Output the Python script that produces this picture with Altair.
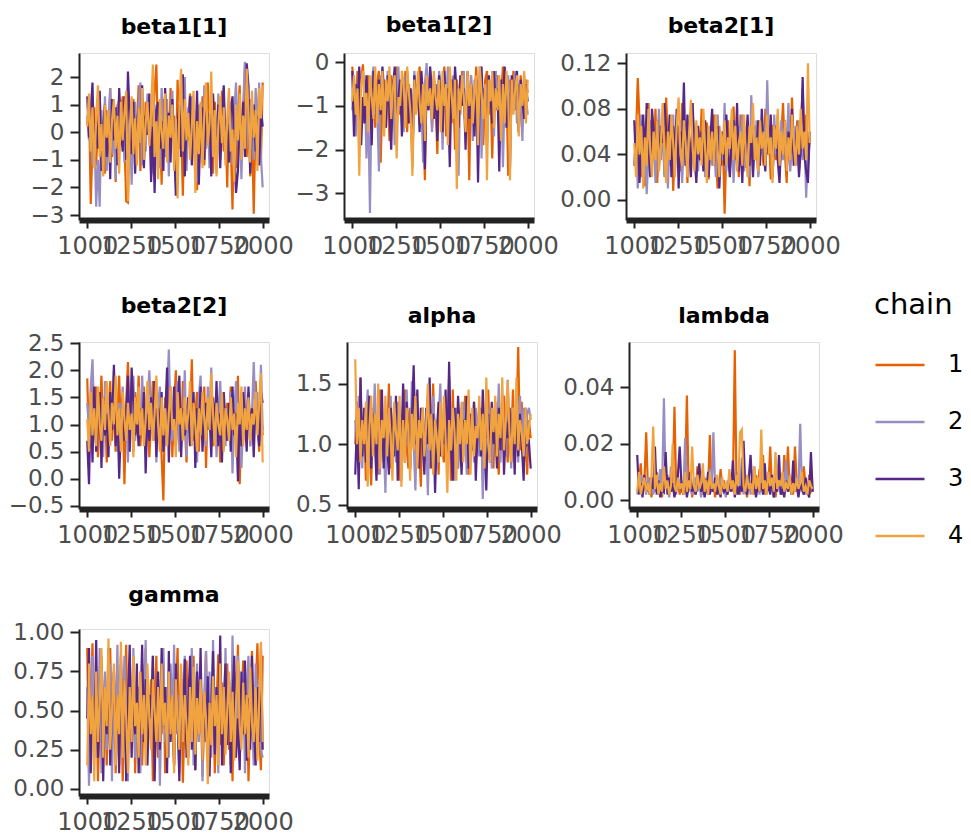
import altair as alt
import pandas as pd

# ---------------- data ----------------
N_DRAWS = 100
ITERATIONS = [1000 + round(i * 1000 / (N_DRAWS - 1)) for i in range(N_DRAWS)]
CHAINS = ["1", "2", "3", "4"]
CHAIN_COLORS = ["#e66101", "#998ec3", "#542788", "#f1a340"]
PARAMS = ["beta1[1]", "beta1[2]", "beta2[1]", "beta2[2]", "alpha", "lambda", "gamma"]

beta1_1 = [
    [0.3, 1.1, -2.6, -0.4, 0.9, -1.2, 0.5, 1.4, -0.7, 0.2,
     -1.5, 0.8, -0.2, 1.6, -0.9, 0.4, -1.8, 1.0, -0.5, 0.7,
     1.3, -0.3, -2.5, -2.55, 0.6, -1.1, 1.2, -0.6, 0.1, 1.7,
     -1.4, 0.5, -0.8, 1.1, -0.1, 0.9, -1.6, 0.3, 1.5, 2.45,
     -0.7, 0.4, -1.9, 1.2, -0.4, 0.8, -1.0, 1.6, -0.2, 0.6,
     -1.3, 1.9, -0.6, 0.2, -2.3, 1.0, -0.9, 0.5, 1.4, -0.3,
     0.7, -1.7, -2.1, 0.9, -0.5, 1.3, -1.2, 0.1, 1.8, -0.8,
     0.4, -1.5, 1.1, -0.2, 0.6, -1.0, 1.5, -0.7, 0.3, -2.0,
     1.2, -0.4, -2.8, 0.8, -1.3, 0.5, 1.7, -0.6, 0.2, 2.5,
     -0.9, 1.0, -1.6, 0.4, -2.95, 0.7, -0.3, 1.3, -1.1, 1.8],
    [0.6, -0.3, 1.0, -1.2, 0.2, -2.7, -1.0, -2.7, 0.8, -0.5,
     1.3, -1.4, 0.4, 1.6, -0.8, 0.1, -1.7, 0.9, 1.2, -0.4,
     0.5, -1.1, 1.5, -0.2, 0.7, -1.9, 0.3, 1.1, -0.6, 0.9,
     1.8, -1.2, 0.2, -0.7, 1.4, -0.1, 0.6, -1.5, 1.0, -0.3,
     0.8, -1.3, 1.6, 0.0, -0.9, 1.2, -1.6, 0.5, 1.5, -0.5,
     0.3, -1.0, 1.1, -0.4, 0.7, 2.0, -1.4, 0.9, -0.2, 1.3,
     -0.8, 0.4, -1.8, 1.0, 0.1, -1.1, 1.7, -0.6, 0.6, -1.3,
     1.2, -0.3, 0.8, -1.5, 1.4, -0.7, 0.2, 1.6, -1.0, 0.5,
     -0.4, 1.1, -1.2, 0.7, 1.8, -0.5, 0.3, -1.7, 1.0, 2.55,
     1.7, -0.6, 1.2, 0.4, -1.0, 1.6, 0.2, 1.8, -0.9, -2.0],
    [1.3, -0.2, 0.8, 1.8, -1.1, 0.4, -0.6, 1.5, -1.4, 0.2,
     1.0, -0.9, 0.6, -1.7, 1.2, -0.3, 0.9, -1.2, 1.6, 0.1,
     -0.7, 1.3, -1.0, 2.2, 0.5, -0.8, 1.1, -1.5, 0.3, 0.9,
     -0.4, 1.7, -1.3, 0.6, -0.1, 1.4, -1.8, 0.2, -2.2, 0.8,
     1.1, -0.6, 0.4, -1.4, 1.6, -0.2, 0.7, -1.1, 1.2, -0.5,
     -2.3, 0.3, 1.0, -0.9, 2.1, -1.6, 0.5, -0.3, 1.3, -1.2,
     0.6, -0.7, 1.5, -1.9, 0.2, 0.9, -1.0, 1.2, -0.4, 0.7,
     -1.6, 1.4, 0.1, -0.8, 1.0, -1.3, 0.5, 1.7, -0.6, 0.3,
     -1.1, 0.8, 1.3, -0.5, -2.2, -1.4, 0.6, -0.2, 1.1, -0.9,
     2.5, 1.7, -1.5, 0.4, 1.0, -0.7, 0.6, -1.2, 0.9, 0.2],
    [0.2, 1.4, -0.7, 0.9, -1.3, 0.5, 1.7, -0.9, 0.3, -1.6,
     1.0, -0.2, 0.8, -1.1, 0.4, 1.2, -0.6, 0.6, -1.5, 1.1,
     -0.3, 0.7, 1.5, -2.5, 0.1, 1.3, -0.8, 0.5, -1.2, 0.9,
     -0.4, 1.6, -1.0, 0.3, 1.1, -0.5, 0.8, 2.45, -0.9, 0.4,
     -1.7, 1.2, 0.0, -0.6, 1.4, -1.1, 0.6, -0.2, 1.0, -1.4,
     0.5, -2.4, 0.9, 2.3, -0.7, 1.2, -0.3, 0.7, -1.0, 0.2,
     1.5, -2.2, 0.4, -0.8, 1.1, -1.3, 0.6, 1.8, -0.5, 0.3,
     2.2, -0.9, 0.8, -1.6, 0.2, 1.3, -0.4, 0.9, -1.2, 0.5,
     1.6, -0.7, 0.1, -1.8, 1.0, -0.3, 1.4, -1.0, 0.6, -0.6,
     2.3, 0.7, -1.1, 1.5, -0.2, 0.8, -1.4, 1.6, 0.5, 1.7],
]

beta1_2 = [
    [-0.1, -0.6, -1.2, -0.2, -1.6, -0.4, -0.05, -0.9, -1.3, -0.3,
     -0.7, -1.0, -0.15, -1.5, -0.5, -0.2, -2.3, -0.8, -0.4, -1.1,
     -0.6, -1.8, -0.3, -0.9, -1.4, -0.1, -0.7, -1.2, -0.4, -1.0,
     -0.2, -1.6, -0.5, -0.9, -2.4, -0.3, -1.1, -0.6, -0.1, -1.3,
     -0.8, -2.7, -0.4, -1.0, -0.2, -1.5, -0.6, -0.9, -2.1, -0.3,
     -1.2, -0.5, -0.1, -1.7, -0.8, -0.3, -1.4, -0.6, -2.0, -0.4,
     -0.9, -1.2, -0.2, -0.7, -1.6, -0.5, -2.7, -0.3, -1.1, -0.8,
     -0.1, -1.4, -0.6, -0.9, -1.9, -0.4, -0.2, -1.2, -0.7, -2.2,
     -0.5, -1.0, -0.3, -1.5, -0.8, -0.1, -1.3, -0.6, -2.6, -0.4,
     -0.9, -0.2, -1.1, -0.5, -1.6, -0.3, -0.8, -1.2, -0.4, -0.7],
    [-1.1, -0.3, -1.7, -0.6, -0.2, -0.9, -1.4, -0.4, -2.2, -1.0,
     -3.45, -0.5, -0.1, -1.2, -0.8, -2.5, -0.3, -1.0, -0.6, -1.5,
     -0.2, -0.9, -1.3, -0.4, -1.9, -0.7, -0.1, -1.1, -0.5, -1.6,
     -0.3, -0.8, -1.2, -0.6, -1.8, -0.2, -1.0, -0.4, -1.4, -0.9,
     -2.3, -0.5, -0.02, -1.1, -0.7, -1.6, -0.3, -0.9, -1.3, -0.2,
     -0.6, -2.0, -0.4, -1.0, -0.1, -1.4, -0.8, -0.3, -1.2, -0.6,
     -2.6, -0.5, -0.9, -0.2, -1.5, -0.7, -1.1, -0.3, -1.8, -0.4,
     -0.8, -1.2, -0.1, -2.2, -0.6, -0.9, -1.4, -0.3, -1.0, -0.5,
     -1.7, -0.2, -0.8, -1.3, -0.4, -2.4, -0.6, -1.0, -0.3, -1.5,
     -0.7, -1.1, -0.2, -1.4, -0.5, -0.9, -1.8, -0.3, -0.8, -1.2],
    [-0.2, -1.7, -0.5, -1.0, -0.1, -1.9, -0.8, -1.4, -0.3, -1.2,
     -0.6, -1.9, -0.2, -0.9, -1.3, -0.4, -1.2, -0.1, -0.7, -1.5,
     -0.3, -1.1, -2.0, -0.6, -0.1, -1.3, -0.8, -0.4, -1.7, -0.5,
     -0.9, -0.2, -1.4, -0.6, -2.2, -0.3, -1.0, -0.5, -1.6, -0.2,
     -0.8, -2.45, -0.4, -1.1, -0.1, -0.7, -1.3, -0.5, -1.8, -0.3,
     -0.9, -1.6, -0.2, -1.0, -0.6, -2.4, -0.4, -1.2, -0.1, -0.8,
     -1.5, -0.3, -1.0, -0.6, -2.0, -0.2, -1.3, -0.5, -0.9, -1.7,
     -0.4, -2.75, -0.7, -0.1, -1.2, -0.5, -1.9, -0.3, -0.8, -1.4,
     -0.2, -1.1, -0.6, -2.5, -0.4, -1.0, -0.1, -1.5, -0.7, -2.45,
     -0.3, -1.1, -0.6, -0.2, -1.6, -0.4, -0.9, -1.3, -0.5, -0.9],
    [-0.9, -0.3, -1.2, -0.6, -2.6, -0.5, -0.2, -1.0, -0.7, -1.6,
     -0.3, -0.8, -1.3, -0.1, -1.4, -0.5, -1.1, -0.2, -1.7, -0.4,
     -0.9, -0.1, -1.3, -0.6, -0.3, -2.2, -0.8, -1.0, -0.2, -0.5,
     -1.5, -0.1, -0.7, -1.2, -2.6, -0.4, -1.2, -0.2, -0.9, -1.4,
     -0.5, -1.8, -0.3, -1.0, -0.6, -1.3, -0.2, -0.8, -1.1, -0.4,
     -1.6, -0.2, -1.0, -0.5, -1.9, -0.1, -0.7, -1.3, -0.4, -2.9,
     -0.6, -1.1, -0.3, -0.8, -1.6, -0.2, -1.0, -0.5, -1.4, -0.7,
     -0.3, -1.9, -0.1, -0.7, -1.3, -0.5, -2.7, -0.4, -0.9, -0.2,
     -1.5, -0.6, -1.1, -0.3, -1.8, -0.5, -1.4, -0.2, -0.8, -2.7,
     -0.4, -1.2, -0.6, -0.3, -1.7, -0.5, -1.0, -0.2, -1.4, -0.4],
]

beta2_1 = [
    [0.030, 0.055, 0.107, 0.070, 0.020, 0.065, 0.012, 0.048, 0.085, 0.025,
     0.060, 0.035, 0.080, 0.015, 0.055, 0.040, 0.075, 0.022, 0.090, 0.045,
     0.030, 0.070, 0.008, 0.050, 0.035, 0.065, 0.025, 0.085, 0.040, 0.060,
     0.015, 0.055, 0.030, 0.072, 0.045, 0.020, 0.062, 0.038, 0.080, 0.028,
     0.050, 0.068, 0.018, 0.058, 0.035, 0.075, 0.042, 0.010, 0.065, 0.030,
     0.055, -0.012, 0.045, 0.070, 0.025, 0.060, 0.082, 0.035, 0.050, 0.020,
     0.075, 0.040, 0.060, 0.028, 0.070, 0.012, 0.055, 0.035, 0.065, 0.045,
     0.022, 0.070, 0.050, 0.030, 0.080, 0.040, 0.058, 0.018, 0.066, 0.045,
     0.035, 0.075, 0.025, 0.055, 0.085, 0.040, 0.015, 0.068, 0.030, 0.090,
     0.050, 0.038, 0.070, 0.025, 0.060, 0.098, 0.042, 0.075, 0.030, 0.055],
    [0.030, 0.060, 0.010, 0.045, 0.075, 0.020, 0.055, 0.005, 0.040, 0.070,
     0.030, 0.060, 0.015, 0.050, 0.080, 0.035, 0.065, 0.020, 0.045, 0.010,
     0.060, 0.040, 0.075, 0.025, 0.055, 0.035, 0.070, 0.015, 0.050, 0.030,
     0.065, 0.045, 0.020, 0.080, 0.040, 0.060, 0.025, 0.050, 0.035, 0.070,
     0.020, 0.055, 0.040, 0.065, 0.030, 0.050, 0.020, 0.075, 0.045, 0.060,
     0.035, 0.085, 0.025, 0.055, 0.040, 0.070, 0.015, 0.050, 0.030, 0.065,
     0.045, 0.075, 0.025, 0.060, 0.040, 0.020, 0.092, 0.050, 0.035, 0.070,
     0.020, 0.055, 0.040, 0.065, 0.030, 0.105, 0.045, 0.060, 0.025, 0.075,
     0.040, 0.055, 0.020, 0.070, 0.035, 0.060, 0.045, 0.085, 0.025, 0.050,
     0.040, 0.065, 0.030, 0.070, 0.050, 0.035, 0.060, 0.002, 0.045, 0.050],
    [0.070, 0.030, 0.055, 0.015, 0.045, 0.075, 0.035, 0.085, 0.050, 0.020,
     0.080, 0.060, 0.040, 0.070, 0.030, 0.065, 0.050, 0.085, 0.060, 0.040,
     0.075, 0.020, 0.065, 0.040, 0.080, 0.010, 0.060, 0.045, 0.103, 0.030,
     0.075, 0.050, 0.020, 0.085, 0.040, 0.015, 0.065, 0.035, 0.060, 0.025,
     0.070, 0.045, 0.020, 0.055, 0.080, 0.030, 0.050, 0.065, 0.010, 0.045,
     0.060, 0.030, 0.075, 0.040, 0.020, 0.055, 0.070, 0.035, 0.085, 0.025,
     0.050, 0.015, 0.065, 0.040, 0.075, 0.030, 0.060, 0.020, 0.055, 0.045,
     0.070, 0.030, 0.080, 0.045, 0.025, 0.060, 0.040, 0.075, 0.020, 0.050,
     0.065, 0.035, 0.015, 0.055, 0.045, 0.070, 0.025, 0.060, 0.040, 0.080,
     0.030, 0.050, 0.065, 0.020, 0.045, 0.108, 0.040, 0.025, 0.015, 0.060],
    [0.050, 0.020, 0.075, 0.040, 0.065, 0.010, 0.055, 0.030, 0.080, 0.045,
     0.020, 0.060, 0.035, 0.070, 0.025, 0.050, 0.085, 0.040, 0.015, 0.060,
     0.035, 0.075, 0.050, 0.020, 0.065, 0.090, 0.040, 0.030, 0.070, 0.050,
     0.020, 0.060, 0.088, 0.045, 0.025, 0.070, 0.040, 0.055, 0.030, 0.080,
     0.045, 0.015, 0.065, 0.035, 0.060, 0.030, 0.075, 0.045, 0.020, 0.060,
     0.040, 0.070, 0.030, 0.055, 0.045, 0.080, 0.035, 0.065, 0.025, 0.050,
     0.060, 0.030, 0.075, 0.040, 0.020, 0.065, 0.050, 0.085, 0.035, 0.055,
     0.025, 0.070, 0.045, 0.060, 0.030, 0.075, 0.040, 0.055, 0.015, 0.065,
     0.045, 0.080, 0.030, 0.060, 0.040, 0.070, 0.025, 0.055, 0.035, 0.075,
     0.050, 0.030, 0.065, 0.040, 0.080, 0.045, 0.060, 0.035, 0.120, 0.050],
]

beta2_2 = [
    [1.85, 0.6, 1.3, 1.75, 0.9, 1.7, 0.4, 1.2, 1.9, 0.8,
     1.5, 0.3, 1.1, 1.8, 0.7, 1.4, 0.5, 1.2, 1.9, 0.8,
     1.3, -0.1, 1.4, 2.15, 0.9, 1.3, 0.5, 1.6, 1.0, 1.9,
     0.6, 1.2, 1.7, 0.8, 1.5, 0.4, 1.1, 1.8, 0.7, 1.3,
     1.0, 1.6, 0.4, -0.4, 1.5, 0.8, 1.1, 1.7, 0.4, 1.3,
     2.0, 0.9, 1.4, 0.6, 1.8, 1.0, 0.3, 1.5, 1.1, 2.2,
     0.7, 1.2, 1.6, 0.5, 1.3, 0.9, 1.7, 0.2, 1.4, 1.0,
     1.8, 0.6, 1.2, 0.9, 1.5, 0.3, 1.6, 1.1, 0.7, 1.4,
     1.0, 1.7, 0.5, 1.3, 0.8, 1.9, -0.1, 1.2, 0.7, 1.5,
     1.0, 1.6, 0.6, 1.3, 0.9, 1.8, 1.1, 0.5, 1.3, 0.8],
    [1.4, 0.9, 1.7, 2.2, 1.1, 0.6, 1.6, 1.0, 1.3, 0.4,
     1.8, 1.2, 0.7, 1.5, 0.9, 2.0, 1.1, 0.5, 1.4, 1.0,
     1.7, 0.8, 1.3, 0.3, 1.6, 1.1, 1.9, 0.7, 1.2, 1.5,
     0.9, 1.9, 1.0, 0.6, 1.4, 2.0, 1.1, 0.8, 1.5, 0.3,
     1.3, 1.7, 0.9, 1.2, 0.6, 1.5, 2.38, 1.0, 0.7, 1.4,
     1.1, 1.8, 0.5, 1.3, 0.9, 2.0, 0.4, 1.4, 1.0, 1.6,
     0.8, 1.2, 0.3, 1.5, 1.9, 0.9, 1.3, 0.6, 1.7, 1.1,
     2.05, 0.7, 1.4, 0.4, 1.2, 1.8, 0.9, 1.5, 0.6, 1.3,
     1.0, 1.6, 0.1, 1.2, 1.8, 0.8, 1.4, 0.2, 1.1, 1.7,
     0.9, 1.4, 0.6, 1.2, 2.15, 1.0, 1.6, 0.7, 2.1, 0.9],
    [0.7, -0.1, 1.4, 0.3, 1.7, 0.5, 1.1, 1.6, 0.2, 1.5,
     0.8, 1.2, 0.4, 1.6, 0.9, 2.1, 0.6, 1.3, 0.0, 1.0,
     1.5, 0.7, 1.2, 1.9, 0.5, 2.05, 1.4, 0.8, 1.1, 0.6,
     1.3, 0.9, 1.6, 0.1, 1.2, 0.7, 1.5, 1.0, 1.8, 0.4,
     1.3, 0.8, 1.6, 0.5, 1.1, 2.05, 0.3, 1.4, 0.9, 1.7,
     0.6, 1.2, 1.9, 0.4, 1.3, 0.8, 1.1, 1.5, 0.6, 1.0,
     1.6, 0.2, 1.3, 0.8, 1.7, 0.5, 1.1, 1.4, 0.9, 1.2,
     0.4, 1.5, 0.9, 1.8, 0.6, 1.2, 0.3, 1.6, 1.0, 0.7,
     1.4, 0.5, 1.7, 0.8, 1.2, -0.05, 1.3, 0.6, 1.6, 1.1,
     0.5, 1.7, 0.8, 1.3, 0.4, 1.5, 1.0, 0.6, 1.6, 1.4],
    [1.1, 0.5, 1.6, 0.8, 1.3, 0.6, 1.7, 1.0, 0.7, 1.5,
     0.9, 1.8, 1.2, 0.6, 1.4, 1.0, 1.9, 0.8, 1.3, 0.5,
     1.6, 1.1, 0.7, 1.4, 0.9, 1.2, 0.4, 1.5, 1.0, 1.7,
     0.8, 1.3, 0.6, 1.1, 1.8, 0.9, 1.4, 0.7, 1.2, 1.9,
     1.0, 0.5, 1.5, 0.8, 1.3, 0.6, 1.2, 1.7, 0.9, 1.1,
     0.4, 1.6, 1.0, 1.3, 0.7, 1.5, 0.9, 1.2, 1.8, 0.6,
     1.4, 1.0, 0.5, 1.3, 0.8, 1.6, 1.1, 0.7, 1.5, 0.9,
     1.95, 1.2, 0.6, 1.4, 1.0, 0.8, 1.6, 0.5, 1.3, 1.1,
     0.7, 1.5, 0.9, 1.2, 0.4, 1.4, 1.0, 1.7, 0.6, 1.3,
     0.9, 1.5, 0.7, 1.2, 1.0, 1.6, 0.8, 1.4, 1.95, 0.3],
]

alpha = [
    [1.00, 1.35, 0.80, 1.55, 0.90, 1.20, 0.70, 1.40, 1.00, 0.66,
     1.30, 0.95, 1.15, 0.75, 1.45, 1.05, 0.85, 1.30, 1.00, 1.50,
     0.80, 1.20, 0.90, 1.35, 1.10, 0.70, 1.25, 0.95, 1.45, 1.00,
     0.80, 1.30, 1.10, 1.55, 0.85, 1.20, 1.00, 0.65, 1.30, 0.90,
     1.15, 1.40, 0.80, 1.05, 1.50, 0.95, 1.20, 0.75, 1.35, 1.00,
     0.85, 1.25, 1.10, 1.56, 0.70, 1.45, 0.95, 1.20, 0.80, 1.05,
     1.30, 0.90, 1.40, 1.05, 0.75, 1.25, 1.00, 1.35, 0.85, 1.15,
     0.95, 1.30, 0.70, 1.20, 1.05, 1.45, 0.90, 1.15, 0.80, 1.35,
     1.00, 0.75, 1.25, 0.95, 1.40, 1.10, 0.85, 1.30, 1.00, 1.45,
     0.80, 1.20, 1.80, 0.95, 1.35, 0.80, 1.10, 0.75, 1.20, 1.05],
    [1.20, 0.90, 1.40, 1.05, 0.80, 1.30, 1.10, 1.45, 0.85, 1.20,
     1.00, 1.50, 0.90, 1.15, 0.75, 1.30, 1.05, 0.60, 1.25, 0.90,
     1.40, 1.00, 1.20, 0.85, 1.35, 1.10, 0.70, 1.30, 0.95, 1.45,
     1.05, 0.80, 1.52, 1.00, 0.62, 1.35, 0.90, 1.15, 1.30, 0.85,
     1.10, 0.58, 1.25, 0.95, 1.40, 1.05, 0.80, 1.20, 1.50, 0.90,
     1.30, 1.05, 0.85, 1.45, 1.00, 1.25, 0.70, 1.30, 0.80, 1.20,
     0.95, 1.35, 1.10, 0.75, 1.40, 1.00, 1.20, 0.85, 1.30, 1.05,
     0.90, 1.25, 0.55, 1.15, 1.40, 0.95, 1.30, 0.80, 1.10, 1.35,
     1.00, 1.50, 0.85, 1.25, 1.05, 0.90, 1.53, 1.10, 0.80, 1.30,
     1.00, 1.20, 0.85, 1.40, 1.05, 1.30, 0.90, 1.25, 1.30, 1.20],
    [0.75, 1.20, 0.63, 1.55, 0.90, 1.30, 0.85, 1.15, 1.40, 0.80,
     1.25, 1.05, 0.70, 1.35, 0.95, 1.45, 0.80, 1.20, 1.00, 0.75,
     1.30, 1.10, 0.90, 1.40, 0.70, 1.20, 1.00, 1.50, 0.85, 1.35,
     1.10, 0.80, 1.20, 1.65, 1.00, 1.45, 0.80, 1.30, 1.05, 0.75,
     1.30, 1.00, 1.55, 0.80, 1.25, 0.60, 1.10, 1.35, 0.90, 1.20,
     1.00, 1.45, 0.85, 1.68, 1.00, 0.70, 1.30, 0.90, 1.40, 1.10,
     0.75, 1.20, 1.05, 1.40, 0.80, 1.25, 0.95, 1.35, 0.70, 1.10,
     1.30, 0.90, 1.45, 1.00, 0.62, 1.25, 0.85, 1.35, 1.00, 1.15,
     0.80, 1.30, 0.95, 1.40, 0.75, 1.20, 1.05, 1.30, 0.85, 1.25,
     0.75, 1.35, 0.90, 1.25, 1.00, 0.70, 1.30, 1.00, 1.02, 0.80],
    [1.70, 1.00, 1.30, 0.85, 1.20, 1.00, 1.35, 0.65, 1.15, 1.40,
     0.90, 1.25, 1.00, 1.50, 0.80, 1.20, 1.05, 1.40, 0.90, 1.30,
     1.05, 0.70, 1.35, 1.10, 0.95, 1.40, 0.65, 1.20, 0.85, 1.30,
     1.10, 0.70, 1.25, 0.95, 1.40, 0.80, 1.20, 1.05, 1.30, 0.90,
     1.15, 1.50, 0.95, 1.25, 0.75, 1.20, 1.05, 0.85, 1.35, 0.90,
     1.40, 1.05, 0.60, 1.20, 0.95, 1.30, 1.10, 0.70, 1.25, 1.00,
     1.35, 0.85, 1.20, 1.00, 1.45, 0.75, 1.30, 0.90, 1.15, 1.05,
     1.40, 0.95, 1.25, 0.80, 1.55, 1.00, 0.85, 1.30, 1.10, 1.40,
     0.90, 1.25, 1.05, 1.55, 0.95, 1.20, 1.52, 1.10, 0.85, 1.30,
     1.00, 1.55, 0.95, 1.20, 1.10, 0.90, 1.30, 1.00, 1.15, 1.25],
]

lambda_ = [
    [0.003, 0.006, 0.013, 0.002, 0.005, 0.024, 0.004, 0.008, 0.001, 0.006,
     0.003, 0.010, 0.002, 0.005, 0.001, 0.007, 0.004, 0.009, 0.002, 0.006,
     0.003, 0.033, 0.004, 0.007, 0.002, 0.005, 0.003, 0.008, 0.037, 0.003,
     0.009, 0.001, 0.005, 0.002, 0.012, 0.004, 0.006, 0.002, 0.008, 0.003,
     0.005, 0.023, 0.003, 0.006, 0.001, 0.008, 0.002, 0.011, 0.004, 0.007,
     0.002, 0.006, 0.004, 0.009, 0.003, 0.053, 0.004, 0.007, 0.002, 0.010,
     0.003, 0.005, 0.001, 0.008, 0.004, 0.006, 0.002, 0.009, 0.003, 0.011,
     0.005, 0.016, 0.002, 0.007, 0.004, 0.019, 0.003, 0.008, 0.001, 0.006,
     0.004, 0.009, 0.002, 0.016, 0.005, 0.019, 0.003, 0.008, 0.002, 0.019,
     0.006, 0.002, 0.007, 0.003, 0.012, 0.005, 0.002, 0.009, 0.003, 0.004],
    [0.002, 0.005, 0.009, 0.003, 0.006, 0.002, 0.008, 0.004, 0.007, 0.002,
     0.005, 0.003, 0.006, 0.011, 0.002, 0.036, 0.004, 0.007, 0.001, 0.012,
     0.003, 0.005, 0.002, 0.009, 0.004, 0.006, 0.003, 0.022, 0.002, 0.007,
     0.004, 0.002, 0.005, 0.008, 0.003, 0.006, 0.001, 0.009, 0.004, 0.007,
     0.002, 0.011, 0.003, 0.024, 0.004, 0.006, 0.002, 0.008, 0.003, 0.005,
     0.001, 0.007, 0.003, 0.009, 0.004, 0.006, 0.002, 0.010, 0.003, 0.015,
     0.002, 0.006, 0.004, 0.008, 0.002, 0.005, 0.012, 0.003, 0.007, 0.002,
     0.009, 0.004, 0.006, 0.002, 0.010, 0.003, 0.005, 0.001, 0.008, 0.004,
     0.006, 0.002, 0.009, 0.003, 0.014, 0.004, 0.007, 0.002, 0.005, 0.003,
     0.008, 0.004, 0.027, 0.003, 0.008, 0.002, 0.005, 0.003, 0.010, 0.003],
    [0.016, 0.002, 0.006, 0.001, 0.009, 0.003, 0.005, 0.002, 0.008, 0.004,
     0.019, 0.002, 0.007, 0.001, 0.004, 0.003, 0.017, 0.002, 0.008, 0.003,
     0.006, 0.001, 0.004, 0.009, 0.019, 0.004, 0.002, 0.007, 0.001, 0.005,
     0.010, 0.003, 0.005, 0.002, 0.008, 0.013, 0.003, 0.006, 0.001, 0.004,
     0.010, 0.002, 0.006, 0.003, 0.008, 0.002, 0.005, 0.001, 0.007, 0.003,
     0.004, 0.002, 0.008, 0.003, 0.014, 0.001, 0.006, 0.002, 0.005, 0.003,
     0.021, 0.004, 0.002, 0.008, 0.016, 0.003, 0.007, 0.001, 0.005, 0.003,
     0.006, 0.002, 0.013, 0.003, 0.005, 0.002, 0.009, 0.001, 0.006, 0.003,
     0.016, 0.002, 0.004, 0.001, 0.007, 0.003, 0.009, 0.002, 0.014, 0.003,
     0.005, 0.001, 0.006, 0.004, 0.002, 0.008, 0.003, 0.001, 0.017, 0.003],
    [0.003, 0.010, 0.002, 0.005, 0.008, 0.003, 0.006, 0.002, 0.009, 0.026,
     0.004, 0.009, 0.002, 0.006, 0.003, 0.012, 0.004, 0.007, 0.002, 0.005,
     0.020, 0.005, 0.003, 0.008, 0.004, 0.006, 0.002, 0.010, 0.003, 0.007,
     0.004, 0.019, 0.005, 0.003, 0.009, 0.004, 0.006, 0.013, 0.003, 0.007,
     0.002, 0.010, 0.004, 0.006, 0.003, 0.009, 0.005, 0.002, 0.008, 0.004,
     0.006, 0.003, 0.011, 0.004, 0.007, 0.002, 0.009, 0.005, 0.024, 0.025,
     0.005, 0.003, 0.009, 0.004, 0.006, 0.002, 0.012, 0.004, 0.008, 0.003,
     0.025, 0.004, 0.007, 0.002, 0.010, 0.005, 0.008, 0.003, 0.017, 0.004,
     0.007, 0.005, 0.010, 0.003, 0.006, 0.004, 0.009, 0.002, 0.006, 0.003,
     0.008, 0.004, 0.006, 0.010, 0.003, 0.005, 0.002, 0.007, 0.005, 0.004],
]

gamma = [
    [0.90, 0.12, 0.55, 0.93, 0.20, 0.70, 0.05, 0.45, 0.85, 0.30,
     0.65, 0.15, 0.50, 0.90, 0.25, 0.75, 0.10, 0.60, 0.35, 0.80,
     0.05, 0.50, 0.92, 0.20, 0.65, 0.40, 0.85, 0.10, 0.55, 0.30,
     0.75, 0.15, 0.60, 0.90, 0.25, 0.45, 0.70, 0.05, 0.50, 0.85,
     0.20, 0.65, 0.35, 0.80, 0.10, 0.55, 0.30, 0.75, 0.45, 0.15,
     0.60, 0.90, 0.25, 0.70, 0.04, 0.50, 0.82, 0.20, 0.65, 0.38,
     0.85, 0.12, 0.58, 0.30, 0.78, 0.08, 0.48, 0.88, 0.22, 0.62,
     0.35, 0.72, 0.10, 0.52, 0.86, 0.28, 0.68, 0.15, 0.45, 0.80,
     0.25, 0.60, 0.05, 0.75, 0.40, 0.92, 0.18, 0.55, 0.82, 0.30,
     0.70, 0.05, 0.48, 0.88, 0.20, 0.62, 0.93, 0.35, 0.12, 0.85],
    [0.65, 0.02, 0.50, 0.85, 0.20, 0.60, 0.35, 0.90, 0.10, 0.55,
     0.75, 0.25, 0.45, 0.80, 0.05, 0.70, 0.40, 0.92, 0.15, 0.60,
     0.30, 0.85, 0.50, 0.05, 0.75, 0.35, 0.90, 0.20, 0.55, 0.65,
     0.10, 0.80, 0.40, 0.95, 0.25, 0.60, 0.45, 0.85, 0.15, 0.50,
     0.70, 0.02, 0.55, 0.90, 0.30, 0.65, 0.20, 0.80, 0.45, 0.92,
     0.35, 0.60, 0.10, 0.75, 0.50, 0.85, 0.25, 0.65, 0.40, 0.90,
     0.15, 0.55, 0.80, 0.30, 0.70, 0.05, 0.60, 0.88, 0.35, 0.75,
     0.20, 0.95, 0.45, 0.65, 0.10, 0.80, 0.55, 0.30, 0.90, 0.40,
     0.70, 0.15, 0.98, 0.50, 0.25, 0.85, 0.60, 0.35, 0.75, 0.10,
     0.65, 0.85, 0.30, 0.55, 0.15, 0.80, 0.45, 0.70, 0.25, 0.20],
    [0.45, 0.90, 0.10, 0.60, 0.30, 0.95, 0.20, 0.55, 0.80, 0.05,
     0.65, 0.35, 0.90, 0.15, 0.50, 0.75, 0.25, 0.60, 0.10, 0.85,
     0.40, 0.70, 0.05, 0.55, 0.92, 0.20, 0.65, 0.35, 0.80, 0.10,
     0.50, 0.92, 0.30, 0.70, 0.15, 0.60, 0.45, 0.85, 0.05, 0.55,
     0.75, 0.25, 0.90, 0.40, 0.65, 0.10, 0.88, 0.30, 0.60, 0.15,
     0.80, 0.45, 0.05, 0.70, 0.35, 0.83, 0.20, 0.55, 0.85, 0.25,
     0.62, 0.12, 0.75, 0.40, 0.90, 0.18, 0.58, 0.30, 0.72, 0.08,
     0.50, 0.88, 0.22, 0.65, 0.35, 0.98, 0.15, 0.55, 0.80, 0.28,
     0.70, 0.10, 0.60, 0.85, 0.20, 0.45, 0.12, 0.75, 0.35, 0.82,
     0.18, 0.58, 0.25, 0.85, 0.40, 0.15, 0.65, 0.30, 0.90, 0.25],
    [0.15, 0.80, 0.35, 0.60, 0.05, 0.75, 0.30, 0.55, 0.90, 0.20,
     0.65, 0.40, 0.96, 0.25, 0.50, 0.80, 0.15, 0.60, 0.35, 0.94,
     0.20, 0.70, 0.45, 0.10, 0.65, 0.30, 0.85, 0.40, 0.55, 0.20,
     0.75, 0.35, 0.60, 0.15, 0.80, 0.45, 0.25, 0.70, 0.50, 0.30,
     0.65, 0.30, 0.80, 0.40, 0.55, 0.20, 0.75, 0.35, 0.60, 0.10,
     0.70, 0.45, 0.25, 0.80, 0.30, 0.60, 0.40, 0.15, 0.65, 0.30,
     0.78, 0.22, 0.58, 0.35, 0.70, 0.18, 0.62, 0.45, 0.03, 0.55,
     0.28, 0.72, 0.40, 0.60, 0.15, 0.80, 0.35, 0.65, 0.22, 0.50,
     0.75, 0.30, 0.62, 0.18, 0.55, 0.82, 0.40, 0.25, 0.68, 0.35,
     0.60, 0.20, 0.78, 0.42, 0.30, 0.65, 0.18, 0.55, 0.94, 0.30],
]

TRACES = {
    "beta1[1]": beta1_1, "beta1[2]": beta1_2, "beta2[1]": beta2_1,
    "beta2[2]": beta2_2, "alpha": alpha, "lambda": lambda_, "gamma": gamma,
}

# y-axis domain, tick values and format per panel
Y_DOMAINS = {
    "beta1[1]": [-3.18, 2.87], "beta1[2]": [-3.61, 0.21], "beta2[1]": [-0.0176, 0.129],
    "beta2[2]": [-0.556, 2.52], "alpha": [0.467, 1.842], "lambda": [-0.0031, 0.0559],
    "gamma": [-0.045, 1.021],
}
Y_TICKS = {
    "beta1[1]": [-3, -2, -1, 0, 1, 2], "beta1[2]": [-3, -2, -1, 0],
    "beta2[1]": [0, 0.04, 0.08, 0.12], "beta2[2]": [-0.5, 0, 0.5, 1, 1.5, 2, 2.5],
    "alpha": [0.5, 1.0, 1.5], "lambda": [0, 0.02, 0.04], "gamma": [0, 0.25, 0.5, 0.75, 1],
}
Y_FORMATS = {
    "beta1[1]": ".0f", "beta1[2]": ".0f", "beta2[1]": ".2f", "beta2[2]": ".1f",
    "alpha": ".1f", "lambda": ".2f", "gamma": ".2f",
}
X_TICKS = [1000, 1250, 1500, 1750, 2000]
X_DOMAIN = [953, 2036]

rows = []
for p in PARAMS:
    for ch, vals in zip(CHAINS, TRACES[p]):
        assert len(vals) == N_DRAWS, (p, ch, len(vals))
        for it, v in zip(ITERATIONS, vals):
            rows.append({"parameter": p, "chain": ch, "iteration": it, "value": v})
df = pd.DataFrame(rows)

FONT = "DejaVu Sans"
AXIS_COL = "#222222"
LABEL_COL = "#4d4d4d"

# invisible y-axis title extents per column so the plot areas line up
COL_EXT = {0: 58, 1: 38, 2: 56}


def panel(p, col):
    return (
        alt.Chart(df)
        .transform_filter(alt.datum.parameter == p)
        .mark_line(strokeWidth=2.2, clip=True)
        .encode(
            x=alt.X(
                "iteration:Q",
                scale=alt.Scale(domain=X_DOMAIN, nice=False, zero=False),
                axis=alt.Axis(
                    values=X_TICKS, format="d", title=None, grid=False,
                    domainColor=AXIS_COL, domainWidth=6, tickColor=AXIS_COL,
                    tickWidth=2, tickSize=8, labelPadding=6,
                    labelFont=FONT, labelFontSize=24, labelColor=LABEL_COL,
                    labelOverlap=False, labelFlush=False,
                ),
            ),
            y=alt.Y(
                "value:Q",
                scale=alt.Scale(domain=Y_DOMAINS[p], nice=False, zero=False),
                axis=alt.Axis(
                    values=Y_TICKS[p], format=Y_FORMATS[p],
                    labelExpr="replace(datum.label, '-', '\u2212')",
                    title="|", titleOpacity=0, titleFontSize=10, titlePadding=0,
                    minExtent=COL_EXT[col], maxExtent=COL_EXT[col],
                    grid=False, domainColor=AXIS_COL, domainWidth=2,
                    tickColor=AXIS_COL, tickWidth=2, tickSize=9, labelPadding=6,
                    labelFont=FONT, labelFontSize=23, labelColor=LABEL_COL,
                    labelOverlap=False,
                ),
            ),
            color=alt.Color(
                "chain:N",
                scale=alt.Scale(domain=CHAINS, range=CHAIN_COLORS),
                legend=alt.Legend(
                    title="chain", orient="none", legendX=795, legendY=238,
                    titleFont=FONT, titleFontSize=29, titleFontWeight="normal",
                    titleColor="black", titlePadding=19,
                    labelFont=FONT, labelFontSize=24, labelColor="black",
                    labelOffset=22, symbolType="stroke", symbolSize=2400,
                    symbolStrokeWidth=2.5, rowPadding=19,
                ),
            ),
        )
        .properties(
            width=190, height=167,
            title=alt.TitleParams(
                p, font=FONT, fontSize=22, fontWeight="bold", color="black",
                anchor="middle", offset=14,
            ),
        )
    )


row1 = alt.hconcat(panel("beta1[1]", 0), panel("beta1[2]", 1), panel("beta2[1]", 2), spacing=0).resolve_scale(color="shared")
row2 = alt.hconcat(panel("beta2[2]", 0), panel("alpha", 1), panel("lambda", 2), spacing=0).resolve_scale(color="shared")
row3 = alt.hconcat(panel("gamma", 0), spacing=0).resolve_scale(color="shared")

chart = (
    alt.vconcat(row1, row2, row3, spacing=35)
    .resolve_scale(color="shared")
    .configure_view(stroke=None)
    .configure(background="white", padding={"left": 7, "top": 13, "right": 5, "bottom": 5})
)

chart.save("out.html", embed_options={"renderer": "svg", "actions": False})
